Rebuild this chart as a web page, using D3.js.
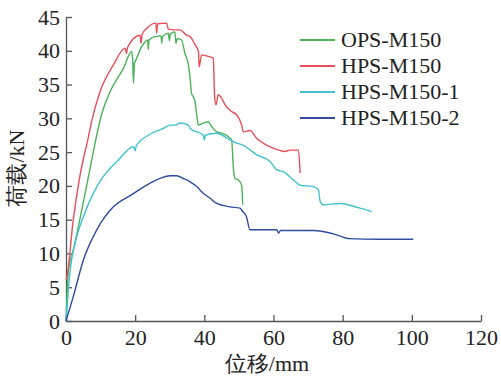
<!DOCTYPE html>
<html>
<head>
<meta charset="utf-8">
<script src="https://cdn.jsdelivr.net/npm/d3@7"></script>
<style>
  body { margin: 0; background: #fff; }
  text { font-family: "Liberation Serif", "Times New Roman", serif; }
</style>
</head>
<body>
<script>
// chart size
var w = 501;
var h = 378;
var margin = {left: 66, right: 20, top: 17, bottom: 57};

// axis ticks
var xTicks = [0, 20, 40, 60, 80, 100, 120];
var yTicks = [0, 5, 10, 15, 20, 25, 30, 35, 40, 45];

// series names
var seriesNames = ["OPS-M150", "HPS-M150", "HPS-M150-1", "HPS-M150-2"];

// load-displacement points: [mm, kN]
var opsM150 = [
  [0, 0], [0.4, 5], [0.7, 7.5], [2.1, 10.5], [4, 15], [6.5, 21.4], [8.4, 26.3], [10.3, 30.6],
  [12.7, 33.9], [16.6, 37.4], [19, 39.9], [19.3, 38.5], [19.5, 35.2], [19.8, 38.2], [20, 38.4],
  [21.9, 40.6], [23.6, 41.6], [23.8, 40.2], [24, 41.6], [25.7, 42.1], [27.5, 42.2], [27.7, 41.1],
  [27.9, 42.1], [29.6, 42.6], [29.9, 41.5], [30.2, 42.5], [31.5, 42.8], [31.8, 41.1], [32.2, 41.8],
  [33.4, 41.6], [34.4, 39.6], [35.4, 37.9], [35.9, 35.9], [36.3, 33.7], [36.8, 33.2], [37.3, 32.5],
  [37.8, 30.5], [38.3, 29], [39.7, 29.3], [41.1, 29.5], [42.1, 28.8], [43.6, 28], [45, 27.8],
  [46.9, 27.3], [47.9, 26.8], [48.4, 22.6], [48.9, 21.1], [49.8, 20.9], [50.8, 20.1], [51.1, 17.2]
];
var hpsM150 = [
  [0, 6.1], [0.2, 6.4], [2.1, 15], [4, 21.4], [6.5, 27.3], [7.4, 29.5], [9.8, 33.9], [13.7, 37.9],
  [17.1, 40.4], [17.5, 39.6], [17.8, 40.5], [21.4, 42.3], [21.7, 41.1], [22, 42.4], [23.3, 43.3],
  [26, 44.1], [26.2, 42.6], [26.5, 44], [29.1, 44.1], [29.6, 43.2], [31.5, 43.1], [33, 43.1],
  [34.9, 42.3], [35.9, 42.1], [37.3, 40.9], [38.3, 39.9], [38.5, 37.6], [39.2, 39.4], [41.6, 39.1],
  [42.6, 38.9], [43, 33], [43.4, 32], [44, 33.5], [45, 33], [46, 32], [47.9, 31], [49.4, 30.5],
  [50.8, 29], [51.3, 28], [53.2, 28.2], [55.2, 27], [57.1, 26.3], [59.9, 25.6], [63.3, 25.1],
  [64.8, 25.3], [67.2, 25.3], [67.7, 21.9]
];
var hpsM150a = [
  [0, 0], [1.2, 7.5], [2.6, 11.5], [5, 15.4], [7.9, 18.9], [10.8, 21.4], [15.1, 23.8], [19.5, 25.8],
  [20, 25.2], [20.3, 25.9], [23.8, 27.5], [28.1, 28.5], [30.1, 29], [31.5, 29], [33, 29.3],
  [35.4, 29], [35.9, 28.5], [39.7, 27.5], [40, 26.8], [40.3, 27.5], [43.6, 27.8], [47.4, 26.8],
  [49, 26.4], [51.3, 26], [55.2, 24.6], [59, 23.6], [60.9, 22.4], [62.8, 22.1], [65.7, 20.9],
  [67.7, 20.1], [71.5, 19.9], [73, 19.4], [73.5, 17.7], [74.4, 17.2], [79.2, 17.4], [85, 16.7],
  [88.4, 16.2]
];
var hpsM150b = [
  [0, 0], [2.1, 3.6], [5, 9], [8.9, 13.5], [13.7, 16.9], [19, 18.7], [23.3, 20.1], [27.2, 21.1],
  [30.1, 21.5], [32, 21.5], [33.9, 21.1], [35.9, 20.6], [37.8, 19.9], [39.7, 18.9], [41.6, 18.2],
  [43.6, 17.4], [47.4, 16.9], [50.3, 16.7], [50.8, 16.4], [52.2, 15.4], [53.2, 13.5], [57.1, 13.5],
  [60.9, 13.5], [61.5, 13], [62, 13.4], [66.7, 13.4], [71.5, 13.4], [77.3, 12.9], [81.7, 12.2],
  [90.8, 12.1], [100.4, 12.1]
];

var seriesData = [opsM150, hpsM150, hpsM150a, hpsM150b];
var colors = ["#4bb35a", "#e8505a", "#41c3cc", "#2f4c9f"];

var svg = d3.select("body").append("svg")
  .attr("width", w)
  .attr("height", h);

var xScale = d3.scaleLinear()
  .domain([0, 120])
  .range([margin.left, w - margin.right]);

var yScale = d3.scaleLinear()
  .domain([0, 45])
  .range([h - margin.bottom, margin.top]);

// x axis with ticks pointing inward
var xAxis = d3.axisBottom(xScale)
  .tickValues(xTicks)
  .tickSizeInner(-6)
  .tickSizeOuter(0)
  .tickPadding(8);

svg.append("g")
  .attr("transform", "translate(0," + (h - margin.bottom) + ")")
  .call(xAxis)
  .call(function(g) {
    g.selectAll("path, line").attr("stroke", "#555").attr("stroke-width", 1.3);
    g.selectAll("text").attr("font-size", "22px").attr("fill", "#222")
      .style("font-family", "'Liberation Serif', serif");
  });

var yAxis = d3.axisLeft(yScale)
  .tickValues(yTicks)
  .tickSizeInner(-6)
  .tickSizeOuter(0)
  .tickPadding(6);

svg.append("g")
  .attr("transform", "translate(" + margin.left + ",0)")
  .call(yAxis)
  .call(function(g) {
    g.selectAll("path, line").attr("stroke", "#555").attr("stroke-width", 1.3);
    g.selectAll("text").attr("font-size", "22px").attr("fill", "#222")
      .style("font-family", "'Liberation Serif', serif");
  });

// axis titles
svg.append("text")
  .attr("x", 267)
  .attr("y", 371)
  .attr("text-anchor", "middle")
  .attr("font-size", "22px")
  .attr("fill", "#222")
  .text("位移/mm");

svg.append("text")
  .attr("transform", "translate(24,168) rotate(-90)")
  .attr("text-anchor", "middle")
  .attr("font-size", "22px")
  .attr("fill", "#222")
  .text("荷载/kN");

// curves
var line = d3.line()
  .curve(d3.curveMonotoneX)
  .x(function(d) { return xScale(d[0]); })
  .y(function(d) { return yScale(d[1]); });

svg.selectAll(".curve")
  .data(seriesData)
  .enter()
  .append("path")
  .attr("class", "curve")
  .attr("d", line)
  .attr("fill", "none")
  .attr("stroke", function(d, i) { return colors[i]; })
  .attr("stroke-width", 1.4)
  .attr("stroke-linejoin", "round");

// legend
var legend = svg.selectAll(".legend")
  .data(seriesNames)
  .enter()
  .append("g")
  .attr("class", "legend")
  .attr("transform", function(d, i) { return "translate(300," + (40 + i * 26) + ")"; });

legend.append("line")
  .attr("x1", 0)
  .attr("x2", 35)
  .attr("stroke", function(d, i) { return colors[i]; })
  .attr("stroke-width", 2);

legend.append("text")
  .attr("x", 41)
  .attr("y", 7)
  .attr("font-size", "22px")
  .attr("fill", "#222")
  .text(function(d) { return d; });
</script>
</body>
</html>
